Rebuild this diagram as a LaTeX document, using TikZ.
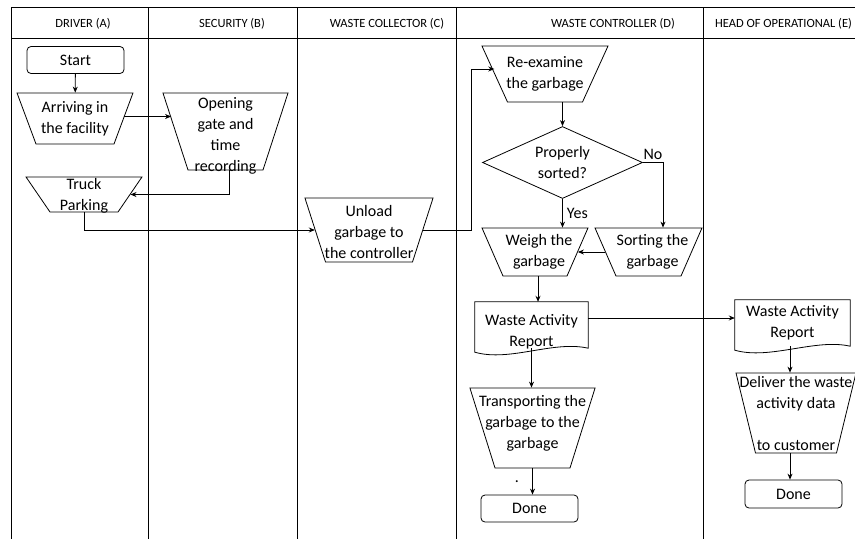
\documentclass[tikz,border=0pt]{standalone}
\usepackage{fontspec}
\setmainfont{Carlito}
\usetikzlibrary{shapes,arrows.meta,positioning}

\begin{document}
\begin{tikzpicture}[
    x=1pt, y=-1pt,
    lane/.style={line width=0.9pt},
    head/.style={font=\fontsize{12.5}{15}\selectfont},
    txt/.style={align=center, inner sep=0pt, font=\fontsize{16}{21}\selectfont},
    term/.style={rectangle, rounded corners=4pt, draw, line width=0.8pt, minimum width=97pt, minimum height=27pt, font=\fontsize{16}{21}\selectfont},
    trap/.style 2 args={trapezium, draw, line width=0.8pt, shape border rotate=180, inner sep=0pt,
        text width=#1, text height=#2, text depth=#2},
    dec/.style={diamond, draw, line width=0.8pt, minimum width=160pt, minimum height=72pt, inner sep=0pt},
    doc/.style={rectangle, inner sep=0pt, minimum height=46pt},
    arrow/.style={-{Stealth[length=6pt,width=5pt]}, line width=0.8pt},
]
    \useasboundingbox (0,0) rectangle (855,539);

    \draw[lane] (11,7) -- (855,7);
    \draw[lane] (11,38.5) -- (855,38.5);
    \foreach \x in {11,148,297,456,703} \draw[lane] (\x,7) -- (\x,539);

    \node[head] (hA) at (83,23.5) {DRIVER (A)};
    \node[head] (hB) at (232,23.5) {SECURITY (B)};
    \node[head] (hC) at (387,23.5) {WASTE COLLECTOR (C)};
    \node[head] (hD) at (613,23.5) {WASTE CONTROLLER (D)};
    \node[head] (hE) at (783.5,23.5) {HEAD OF OPERATIONAL (E)};

    \node[term] (start) at (75.5,60) {Start};
    \node[trap={78pt}{25.5pt}, trapezium angle=69.6,
        label={[txt]center:{Arriving in\\the facility}}] (arr) at (75,118.5) {};
    \node[trap={75pt}{38.5pt}, trapezium angle=72,
        label={[txt, yshift=-4.5pt]center:{Opening\\gate and\\time\\recording}}] (opn) at (225.5,131.5) {};
    \node[trap={68pt}{17.5pt}, trapezium angle=55.6,
        label={[txt, yshift=-1.5pt]center:{Truck\\Parking}}] (trk) at (84,194.5) {};
    \node[trap={87pt}{32pt}, trapezium angle=72.2,
        label={[txt, yshift=-2pt]center:{Unload\\garbage to\\the controller}}] (unl) at (369,230) {};

    \node[trap={75pt}{28pt}, trapezium angle=65.5,
        label={[txt]center:{Re-examine\\the garbage}}] (rex) at (545,74) {};
    \node[dec, label={[txt]center:{Properly\\sorted?}}] (dia) at (562.5,162.5) {};
    \node[trap={64pt}{24pt}, trapezium angle=66.4,
        label={[txt, xshift=4pt]center:{Weigh the\\garbage}}] (wgh) at (535,252) {};
    \node[trap={65pt}{24pt}, trapezium angle=66.4,
        label={[txt, xshift=4pt]center:{Sorting the\\garbage}}] (srt) at (648.5,252) {};
    \node[doc, minimum width=113pt, label={[txt, yshift=-7pt]center:{Waste Activity\\Report}}] (war) at (531.5,325) {};
    \node[trap={75pt}{40pt}, trapezium angle=72.6,
        label={[txt, yshift=5pt]center:{Transporting the\\garbage to the\\garbage}}] (trn) at (532.5,428) {};
    \node[txt] (dot) at (517,482) {.};
    \node[term] (done1) at (529.5,508.5) {Done};

    \node[doc, minimum width=115pt, label={[txt]center:{Waste Activity\\Report}}] (war2) at (792.5,323) {};
    \node[trap={81pt}{40pt}, trapezium angle=76.3,
        label={[txt]center:{Deliver the waste\\activity data\\~\\to customer}}] (dlv) at (796,413) {};
    \node[term, minimum height=28pt] (done2) at (793.5,494) {Done};

    \draw[line width=0.8pt] (war.north west) -- (war.north east) -- (war.south east)
        .. controls +(-35,-8) and +(35,10) .. ([yshift=-4pt]war.south west) -- cycle;
    \draw[line width=0.8pt] (war2.north west) -- (war2.north east) -- (war2.south east)
        .. controls +(-35,-8) and +(35,10) .. ([yshift=-4pt]war2.south west) -- cycle;

    \draw[arrow] (start) -- (arr);
    \draw[arrow] ([yshift=2pt]arr.east) -- ([xshift=-4pt,yshift=2pt]opn.west |- arr.east);
    \draw[arrow] ([xshift=4pt]opn.south) |- (trk.east);
    \draw[arrow] (trk.south) |- (unl.west);
    \draw[arrow] (unl.east) -- ++(48,0) |- ([yshift=5pt]rex.west);
    \draw[arrow] (rex.south -| dia.north) -- (dia.north);
    \draw[arrow] (dia.south) -- (dia.south |- wgh.north) node[right, midway, txt, xshift=4pt] (yes) {Yes};
    \draw[arrow] (dia.east) -| ([xshift=14.5pt]srt.north) node[above, pos=0.25, txt, yshift=2pt] (no) {No};
    \draw[arrow] (srt.west) -- (wgh.east);
    \draw[arrow] ([xshift=3pt]wgh.south) -- ([xshift=3pt]wgh.south |- war.north);
    \draw[arrow] ([yshift=7pt]war.east) -- ([yshift=7pt]war.east -| war2.west);
    \draw[arrow] (war.south) -- (war.south |- trn.north);
    \draw[arrow] (trn.south) -- (trn.south |- done1.north);
    \draw[arrow] ([xshift=-2.5pt]war2.south) -- ([xshift=-2.5pt]war2.south |- dlv.north);
    \draw[arrow] ([xshift=-6pt]dlv.south) -- ([xshift=-6pt]dlv.south |- done2.north);
\end{tikzpicture}
\end{document}
